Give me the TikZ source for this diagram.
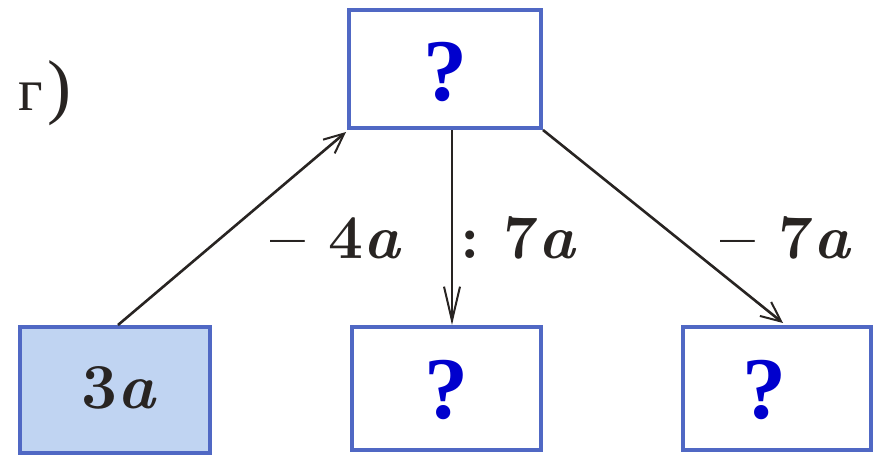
\documentclass[tikz,border=0pt]{standalone}
\usepackage{fontspec}
\newfontfamily\qfont{Liberation Serif}
\newfontfamily\cyrfont{Liberation Serif}
\usetikzlibrary{arrows.meta}
\definecolor{boxblue}{RGB}{80,104,196}
\definecolor{fillblue}{RGB}{192,212,242}
\definecolor{qblue}{RGB}{0,0,205}
\definecolor{ink}{RGB}{40,36,34}
\newcommand\lblfont{\fontsize{62}{70}\selectfont\bfseries}
\newcommand\numfont{\fontsize{64}{72}\selectfont\bfseries}
\newcommand\qmfont{\qfont\fontsize{88}{90}\selectfont\bfseries}
\newcommand\va{{\itshape a}}
\tikzset{
  cell/.style={draw=boxblue, line width=4pt, rectangle, inner sep=0pt},
  qmark/.style={font=\qmfont, text=qblue},
  lbl/.style={font=\lblfont, text=ink, inner sep=0pt},
  conn/.style={draw=ink, line width=2.6pt, -{Straight Barb[length=20pt,width=18pt,line width=2pt]}},
  connlong/.style={draw=ink, line width=2.6pt, -{Straight Barb[length=34pt,width=16pt,line width=2pt]}}
}
\begin{document}
\begin{tikzpicture}[x=1pt,y=-1pt]
\useasboundingbox (0,0) rectangle (875,461);
\node[cell, minimum width=192pt, minimum height=118pt] (top) at (445,69) {};
\node[cell, fill=fillblue, minimum width=190pt, minimum height=126pt] (bl) at (115,390) {};
\node[cell, minimum width=189pt, minimum height=123pt] (bm) at (446.5,388.5) {};
\node[cell, minimum width=188pt, minimum height=123pt] (br) at (777,388.5) {};
\node[qmark] (qt) at (445,72) {?};
\node[qmark] (qm) at (446,390) {?};
\node[qmark] (qr) at (764,390) {?};
\node[lbl, font=\numfont] (t3a) at (118,388) {3\va};
\node[lbl] (l1) at (335,238) {–\ 4\va};
\node[lbl] (l2) at (518,238) {:\ 7\va};
\node[lbl] (l3) at (785,238) {–\ 7\va};
\node[text=ink, inner sep=0pt, anchor=base west] (lab) at (18,110) {\cyrfont\fontsize{60}{66}\selectfont г\kern5pt\fontsize{72}{80}\selectfont)};
\draw[conn] ([xshift=3pt]bl.north) -- ([xshift=-1pt,yshift=-2pt]top.south west);
\draw[connlong] ([xshift=7pt]top.south) -- ([xshift=5.5pt]bm.north);
\draw[conn] (top.south east) -- ([xshift=6pt,yshift=2pt]br.north);
\end{tikzpicture}
\end{document}
